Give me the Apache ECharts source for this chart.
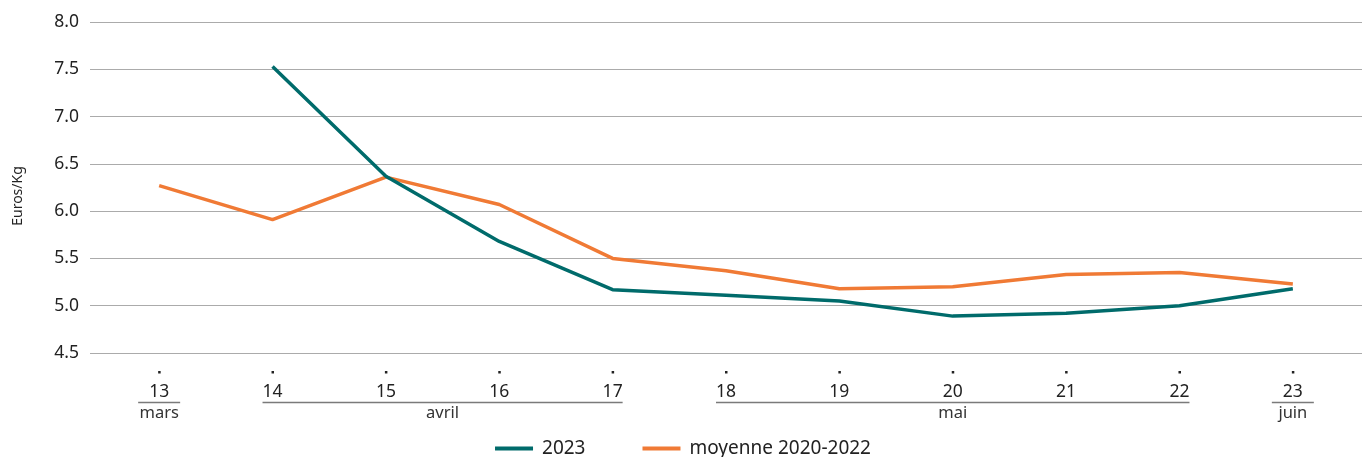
<!DOCTYPE html>
<html>
<head>
<meta charset="utf-8">
<script src="https://cdn.jsdelivr.net/npm/echarts@6/dist/echarts.min.js"></script>
<style>
  html, body { margin: 0; padding: 0; background: #fff; }
  #chart { width: 1366px; height: 457px; }
</style>
</head>
<body>
<div id="chart"></div>
<script>
// Semaines (numéros) et prix moyens en euros/kg
const weeks = [13, 14, 15, 16, 17, 18, 19, 20, 21, 22, 23];
const prix2023 = [null, 7.53, 6.37, 5.68, 5.17, 5.11, 5.05, 4.89, 4.92, 5.00, 5.18];
const moyenne2020_2022 = [6.27, 5.91, 6.36, 6.07, 5.50, 5.37, 5.18, 5.20, 5.33, 5.35, 5.23];
const yTicks = [4.5, 5.0, 5.5, 6.0, 6.5, 7.0, 7.5, 8.0];
const yTitle = 'Euros/Kg';

// Regroupement des semaines par mois
const monthNames = ['mars', 'avril', 'mai', 'juin'];
const monthFirstWeek = [13, 14, 18, 23];
const monthLastWeek = [13, 17, 22, 23];

const FONT = '"Noto Sans", sans-serif';
const TEAL = '#006b6b';
const ORANGE = '#f07a35';

const chart = echarts.init(document.getElementById('chart'), null, { renderer: 'canvas' });

const toPairs = vals => weeks.map((w, i) => [w, vals[i]]);

chart.setOption({
  animation: false,
  textStyle: { fontFamily: FONT },
  grid: { left: 90, right: 4, top: 22, bottom: 104, containLabel: false, outerBoundsMode: 'none' },
  xAxis: {
    type: 'value',
    min: 12.39,
    max: 23.61,
    axisLine: { show: false },
    axisTick: { show: false },
    splitLine: { show: false },
    axisLabel: {
      customValues: weeks,
      formatter: v => String(Math.round(v)),
      margin: 30,
      fontSize: 17.5,
      color: '#222',
      fontFamily: FONT
    }
  },
  yAxis: {
    type: 'value',
    min: yTicks[0],
    max: yTicks[yTicks.length - 1],
    interval: 0.5,
    axisLine: { show: false },
    axisTick: { show: false },
    axisLabel: {
      formatter: v => v.toFixed(1),
      fontSize: 17.5,
      color: '#222',
      margin: 11,
      fontFamily: FONT
    },
    splitLine: { lineStyle: { color: '#ababab', width: 1 } }
  },
  legend: {
    top: 434,
    left: 'center',
    icon: 'rect',
    itemWidth: 38,
    itemHeight: 4,
    itemGap: 57,
    textStyle: { fontSize: 19, color: '#222', fontFamily: FONT, padding: [0, 0, 0, 4] },
    data: ['2023', 'moyenne 2020-2022']
  },
  series: [
    {
      name: 'moyenne 2020-2022',
      type: 'line',
      data: toPairs(moyenne2020_2022),
      symbol: 'none',
      lineStyle: { color: ORANGE, width: 3.5 },
      itemStyle: { color: ORANGE },
      z: 2
    },
    {
      name: '2023',
      type: 'line',
      data: toPairs(prix2023),
      symbol: 'none',
      lineStyle: { color: TEAL, width: 3.5 },
      itemStyle: { color: TEAL },
      z: 3
    }
  ]
});

// Titre de l'axe vertical, points au-dessus des semaines, soulignements et noms des mois
function drawAnnotations() {
  const elements = [];
  const baseY = chart.convertToPixel({ yAxisIndex: 0 }, yTicks[0]);
  elements.push({
    type: 'text',
    x: 18,
    y: 196,
    rotation: Math.PI / 2,
    style: {
      text: yTitle,
      fill: '#222',
      font: '14px ' + FONT,
      align: 'center',
      verticalAlign: 'middle'
    },
    silent: true
  });
  weeks.forEach(w => {
    const x = chart.convertToPixel({ xAxisIndex: 0 }, w);
    elements.push({
      type: 'rect',
      shape: { x: x - 1, y: baseY + 18, width: 2.5, height: 2.5 },
      style: { fill: '#222' },
      silent: true
    });
  });
  monthNames.forEach((name, i) => {
    const x0 = chart.convertToPixel({ xAxisIndex: 0 }, monthFirstWeek[i]);
    const x1 = chart.convertToPixel({ xAxisIndex: 0 }, monthLastWeek[i]);
    const mid = (x0 + x1) / 2;
    let left = x0 - 10, right = x1 + 10;
    const minHalf = 21;
    if (right - left < minHalf * 2) { left = mid - minHalf; right = mid + minHalf; }
    elements.push({
      type: 'line',
      shape: { x1: left, y1: baseY + 49.5, x2: right, y2: baseY + 49.5 },
      style: { stroke: '#7a7a7a', lineWidth: 1.5 },
      silent: true
    });
    elements.push({
      type: 'text',
      x: mid,
      y: baseY + 60,
      style: {
        text: name,
        fill: '#333',
        font: '16.5px ' + FONT,
        align: 'center',
        verticalAlign: 'middle'
      },
      silent: true
    });
  });
  chart.setOption({ graphic: elements });
}
drawAnnotations();
</script>
</body>
</html>
